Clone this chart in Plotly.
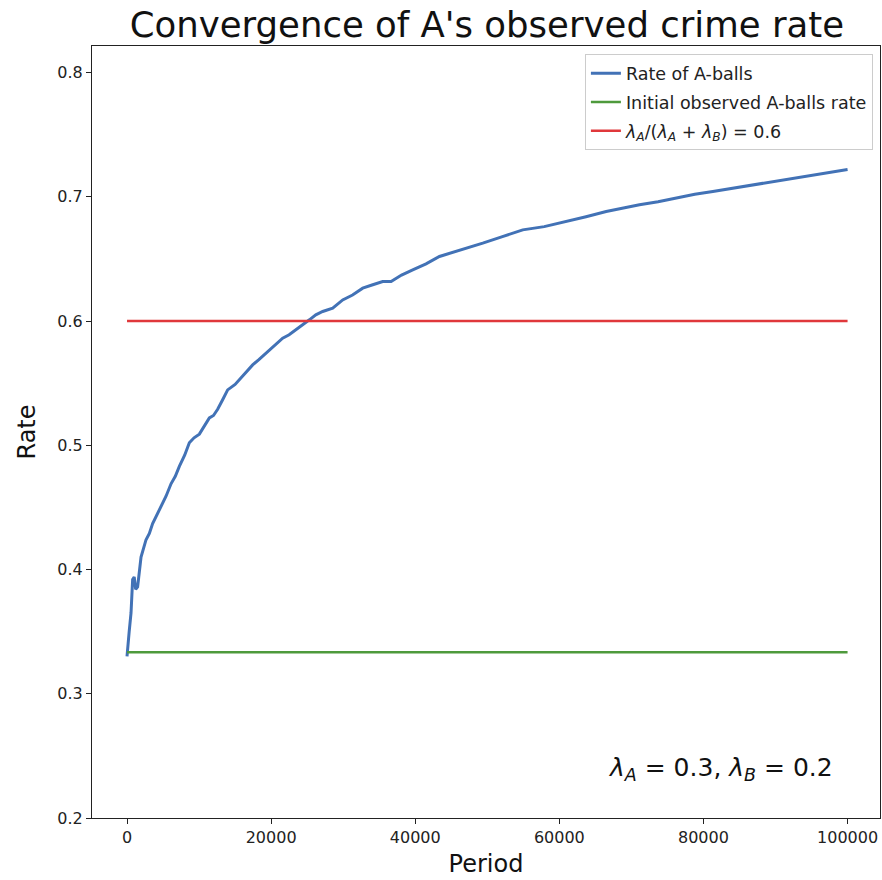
import plotly.graph_objects as go

period = [0, 80, 300, 555, 700, 780, 1000, 1200, 1470, 1944, 2638, 3100, 3554, 4248, 4800,
          5414, 6108, 6700, 7261, 8000, 8649, 9300, 10037, 10700, 11426, 12000, 12578, 13272,
          13966, 15000, 16200, 17437, 18300, 19297, 20500, 21602, 22500, 23462, 24400, 25309,
          26200, 27155, 28544, 29932, 31300, 32709, 34000, 35485, 36650, 38100, 39650, 41500,
          43360, 46300, 49370, 52100, 54920, 57900, 60950, 63700, 66500, 68800, 71120, 73700,
          76220, 78800, 81300, 84100, 86850, 89600, 92400, 96100, 100000]
rate = [0.330, 0.337, 0.350, 0.365, 0.378, 0.392, 0.394, 0.384, 0.386, 0.410, 0.424, 0.429,
        0.437, 0.445, 0.451, 0.459, 0.469, 0.475, 0.483, 0.492, 0.502, 0.506, 0.509, 0.515,
        0.522, 0.524, 0.529, 0.5366, 0.5446, 0.549, 0.557, 0.5647, 0.569, 0.5742, 0.581,
        0.5862, 0.589, 0.5929, 0.597, 0.601, 0.605, 0.6077, 0.6104, 0.617, 0.621, 0.6265,
        0.629, 0.6318, 0.6318, 0.637, 0.6412, 0.646, 0.652, 0.657, 0.6627, 0.668, 0.6734,
        0.676, 0.6801, 0.684, 0.6882, 0.691, 0.6936, 0.696, 0.699, 0.702, 0.7043, 0.707,
        0.7097, 0.712, 0.715, 0.718, 0.722]

initial_rate = 1 / 3
theory_rate = 0.6
period_span = [0, 100000]

x_ticks = [0, 20000, 40000, 60000, 80000, 100000]
y_ticks = [0.2, 0.3, 0.4, 0.5, 0.6, 0.7, 0.8]

FONT = "DejaVu Sans"
BLUE = "#4272b6"
GREEN = "#4e9a3c"
RED = "#e0383b"

fig = go.Figure()
fig.add_trace(go.Scatter(x=period, y=rate, mode="lines", name="Rate of A-balls",
                         legendgroup="a", line=dict(color=BLUE, width=3)))
fig.add_trace(go.Scatter(x=period_span, y=[initial_rate] * 2, mode="lines",
                         name="Initial observed A-balls rate", legendgroup="b",
                         line=dict(color=GREEN, width=2.5)))
fig.add_trace(go.Scatter(x=period_span, y=[theory_rate] * 2, mode="lines",
                         name="<i>λ<sub>A</sub></i>/(<i>λ<sub>A</sub></i> + <i>λ<sub>B</sub></i>) = 0.6",
                         legendgroup="c", line=dict(color=RED, width=2.5)))

axis_common = dict(showline=True, linecolor="#222", linewidth=1.2, mirror=True,
                   ticks="outside", ticklen=5, tickwidth=1.2, tickcolor="#222",
                   showgrid=False, zeroline=False,
                   tickfont=dict(family=FONT, size=16, color="#222"))

fig.update_layout(
    width=882, height=880,
    margin=dict(l=92, r=2, t=46, b=62),
    paper_bgcolor="white", plot_bgcolor="white",
    title=dict(text="Convergence of A's observed crime rate", x=0.552, xanchor="center",
               y=0.972, yanchor="middle",
               font=dict(family=FONT, size=35.5, color="#111")),
    xaxis=dict(range=[-4860, 104500], tickvals=x_ticks, ticktext=[str(v) for v in x_ticks],
               title=dict(text="Period", font=dict(family=FONT, size=24, color="#111"),
                          standoff=8),
               **axis_common),
    yaxis=dict(range=[0.2, 0.8214], tickvals=y_ticks, ticktext=[f"{v:.1f}" for v in y_ticks],
               title=dict(text="Rate", font=dict(family=FONT, size=24, color="#111"),
                          standoff=14),
               **axis_common),
    legend=dict(x=0.991, y=0.989, xanchor="right", yanchor="top",
                bgcolor="rgba(255,255,255,0.9)", bordercolor="#cccccc", borderwidth=1,
                font=dict(family=FONT, size=17.5, color="#222"), tracegroupgap=3),
    showlegend=True,
)

fig.add_annotation(xref="paper", yref="paper", x=0.943, y=0.063, xanchor="right",
                   yanchor="middle", showarrow=False,
                   text="<i>λ<sub>A</sub></i> = 0.3, <i>λ<sub>B</sub></i> = 0.2",
                   font=dict(family=FONT, size=25, color="#111"))

fig.write_html("out.html", config={"displayModeBar": False},
               post_script="document.body.style.margin='0';document.body.style.overflow='hidden';")
